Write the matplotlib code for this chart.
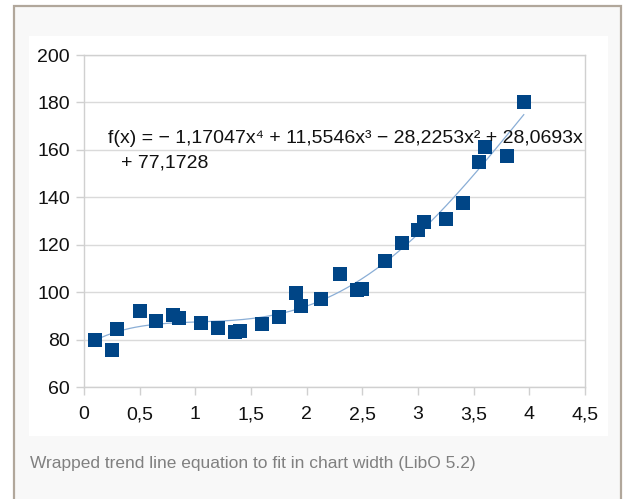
import numpy as np
import matplotlib
matplotlib.use("Agg")
import matplotlib.pyplot as plt
from matplotlib.patches import Rectangle

# ---- data ----
x_vals = [0.1, 0.25, 0.3, 0.5, 0.65, 0.8, 0.85, 1.05, 1.2, 1.36, 1.4, 1.6, 1.75,
          1.9, 1.95, 2.13, 2.3, 2.45, 2.5, 2.7, 2.86, 3.0, 3.05, 3.25, 3.4,
          3.55, 3.6, 3.8, 3.95]
y_vals = [80, 75.5, 84.5, 92, 88, 90.2, 89, 87, 85, 83.3, 83.7, 86.7, 89.6,
          99.5, 94.3, 97.3, 107.5, 100.8, 101.5, 113, 120.7, 126.2, 129.6, 131, 137.6,
          154.7, 161, 157.2, 180]
# trend line coefficients (x^4 ... x^0), as printed in the chart
trend_coeffs = [-1.17047, 11.5546, -28.2253, 28.0693, 77.1728]
eq_line1 = "f(x) = \u2212 1,17047x\u2074 + 11,5546x\u00b3 \u2212 28,2253x\u00b2 + 28,0693x"
eq_line2 = "+ 77,1728"
x_ticks = [0, 0.5, 1, 1.5, 2, 2.5, 3, 3.5, 4, 4.5]
x_tick_labels = ["0", "0,5", "1", "1,5", "2", "2,5", "3", "3,5", "4", "4,5"]
y_ticks = [60, 80, 100, 120, 140, 160, 180, 200]
caption = "Wrapped trend line equation to fit in chart width (LibO 5.2)"

plt.rcParams['font.family'] = ['Liberation Sans', 'DejaVu Sans']

W, H = 626, 499
fig = plt.figure(figsize=(W / 100, H / 100), dpi=100)
fig.patch.set_facecolor('white')

def fx(x):
    return x / W

def fy(y):
    return 1 - y / H

# page frame
fig.patches.append(Rectangle((fx(14), fy(520)), fx(621) - fx(14), fy(6) - fy(520),
                             transform=fig.transFigure, facecolor='#f8f8f8',
                             edgecolor='#b1a79b', linewidth=1.6, zorder=-2))
# white chart area
fig.patches.append(Rectangle((fx(29), fy(436)), fx(608) - fx(29), fy(36) - fy(436),
                             transform=fig.transFigure, facecolor='white',
                             edgecolor='none', zorder=-1))

ax = fig.add_axes([fx(84), fy(387), fx(585) - fx(84), fy(55) - fy(387)])
ax.set_zorder(1)
ax.set_facecolor('white')
ax.set_xlim(0, 4.5)
ax.set_ylim(60, 200)
ax.set_xticks(x_ticks)
ax.set_xticklabels(x_tick_labels)
ax.set_yticks(y_ticks)
ax.grid(True, axis='y', color='#dadada', linewidth=1.0)
ax.set_axisbelow(True)
for s in ax.spines.values():
    s.set_color('#d0d0d0')
    s.set_linewidth(1.0)
ax.tick_params(axis='both', direction='out', length=6, width=1.0, color='#d0d0d0',
               labelsize=14, labelcolor='#111111')
ax.tick_params(axis='y', pad=4)
ax.tick_params(axis='x', pad=8)

xs = np.linspace(min(x_vals), max(x_vals), 300)
ax.plot(xs, np.polyval(trend_coeffs, xs), color='#8aaed6', linewidth=0.9, zorder=2)
ax.plot(x_vals, y_vals, linestyle='none', marker='s', markersize=10.3,
        color='#004586', markeredgewidth=0, zorder=3)

fig.text(fx(108), fy(143), eq_line1, fontsize=14, color='#111111',
         ha='left', va='baseline', zorder=5)
fig.text(fx(121), fy(167), eq_line2, fontsize=14, color='#111111',
         ha='left', va='baseline', zorder=5)

fig.text(fx(30), fy(468), caption, fontsize=12.5, color='#808080',
         ha='left', va='baseline')

fig.savefig('out.png', dpi=100)
